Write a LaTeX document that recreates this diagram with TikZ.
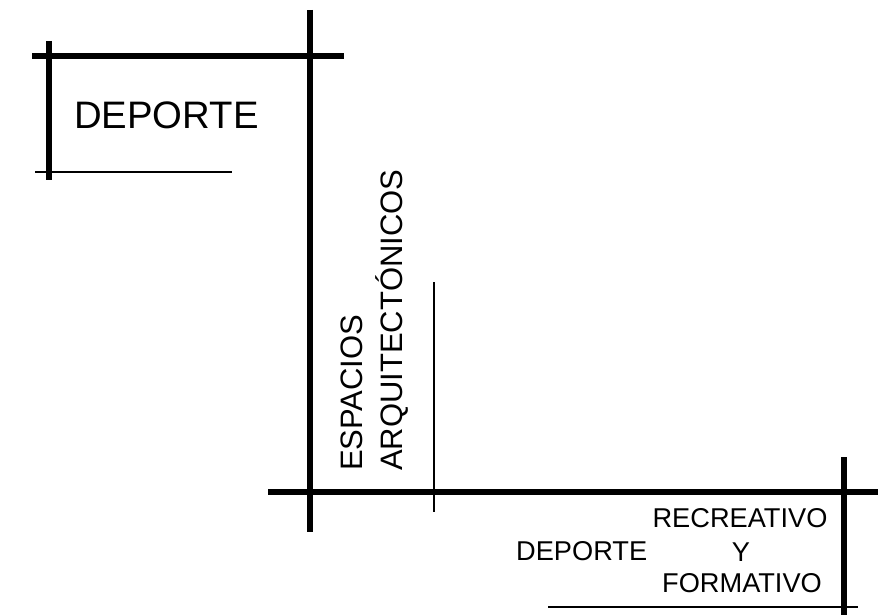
\documentclass[tikz,border=0pt]{standalone}
\usepackage{fontspec}
\setmainfont{Liberation Sans}
\begin{document}
\begin{tikzpicture}[x=1pt,y=-1pt,
  thick line/.style={line width=6pt},
  thin line/.style={line width=2.6pt},
  hair line/.style={line width=2pt},
  big label/.style={inner sep=0pt,font=\fontsize{38.3}{44}\selectfont},
  mid label/.style={inner sep=0pt,font=\fontsize{31}{36}\selectfont},
  small label/.style={inner sep=0pt,font=\fontsize{27.2}{32}\selectfont}]
\useasboundingbox[fill=white] (0,0) rectangle (881,615);
% top-left frame
\draw[thick line] (32,56) -- (344,56);
\draw[thick line] (49,41) -- (49,180);
\draw[thin line] (35,172) -- (232,172);
\node[big label,anchor=base west] (dep1) at (74,129) {DEPORTE};
% main vertical
\draw[thick line] (310,10) -- (310,532);
\draw[hair line] (434,282) -- (434,512);
\node[mid label,rotate=90,anchor=base west] (esp) at (362,471) {ESPACIOS};
\node[mid label,rotate=90,anchor=base west] (arq) at (402,471) {ARQUITECTÓNICOS};
% middle horizontal
\draw[thick line] (268,492) -- (878,492);
\draw[thick line] (844,457) -- (844,615);
\draw[thin line] (548,607) -- (858,607);
\node[small label,anchor=base west] (dep2) at (516,560) {DEPORTE};
\node[small label,anchor=base] (rec) at (740,527) {RECREATIVO};
\node[small label,anchor=base] (y) at (741,561) {Y};
\node[small label,anchor=base] (form) at (742,592) {FORMATIVO};
\end{tikzpicture}
\end{document}
